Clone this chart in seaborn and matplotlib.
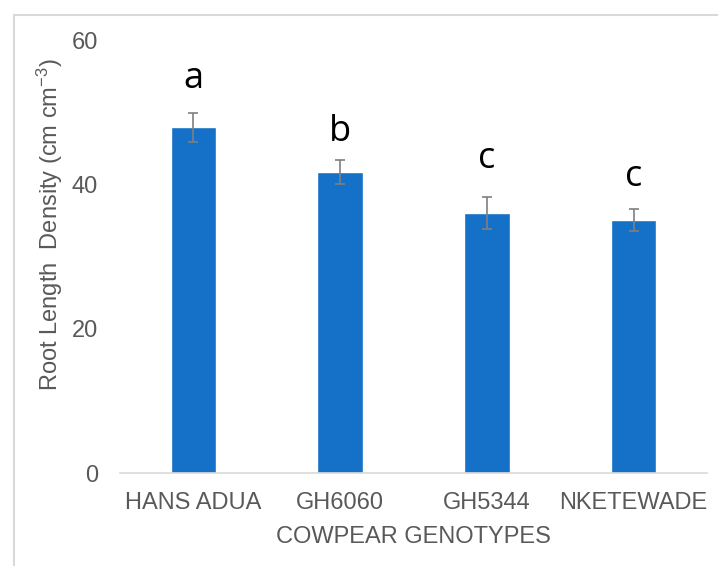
import numpy as np
import pandas as pd
import seaborn as sns
import matplotlib.pyplot as plt
from matplotlib.patches import Rectangle

genotypes = ['HANS ADUA', 'GH6060', 'GH5344', 'NKETEWADE']
rld = [48.0, 41.8, 36.1, 35.1]
rld_err = [2.0, 1.7, 2.2, 1.5]
letters = ['a', 'b', 'c', 'c']
letter_y = [53.5, 46.1, 42.4, 39.9]

df = pd.DataFrame({'Genotype': genotypes, 'RLD': rld})

sns.set_theme(style='white')
plt.rcParams['font.family'] = ['Liberation Sans', 'DejaVu Sans']
plt.rcParams['mathtext.fontset'] = 'custom'
plt.rcParams['mathtext.rm'] = 'Liberation Sans'
plt.rcParams['mathtext.it'] = 'Liberation Sans'

fig = plt.figure(figsize=(7.18, 5.66), dpi=100)
ax = fig.add_axes([0.1671, 0.1643, 0.8176, 0.7633])

sns.barplot(data=df, x='Genotype', y='RLD', color='#1570C8', width=0.31,
            errorbar=None, saturation=1, ax=ax)
ax.errorbar(x=np.arange(len(genotypes)), y=rld, yerr=rld_err, fmt='none',
            ecolor='#7F7F7F', elinewidth=1.2, capsize=3.3, capthick=1.2)

# significance letters
for i, (lt, ly) in enumerate(zip(letters, letter_y)):
    ax.text(i, ly, lt, ha='center', va='baseline', fontsize=26, color='black',
            family=['Open Sans', 'DejaVu Sans'])

ax.set_ylim(0, 60)
ax.set_xlim(-0.5, 3.5)
ax.set_yticks([0, 20, 40, 60])
ax.tick_params(axis='both', length=0, labelsize=17, labelcolor='#595959')
ax.tick_params(axis='x', pad=14)
ax.tick_params(axis='y', pad=16)
for s in ['top', 'right', 'left']:
    ax.spines[s].set_visible(False)
ax.spines['bottom'].set_color('#D9D9D9')
ax.spines['bottom'].set_linewidth(1.2)

ax.set_xlabel('COWPEAR GENOTYPES', fontsize=17, color='#595959', labelpad=8)
ax.set_ylabel('Root Length  Density (cm cm$^{-3}$)', fontsize=17, color='#595959')
ax.yaxis.set_label_coords(-0.094, 0.574)

fig.patches.append(Rectangle((14 / 718, -0.1), 1.2, 1 - 15 / 566 + 0.1,
                             transform=fig.transFigure, fill=False,
                             edgecolor='#D9D9D9', linewidth=1.5))

fig.savefig('out.png', dpi=100)
